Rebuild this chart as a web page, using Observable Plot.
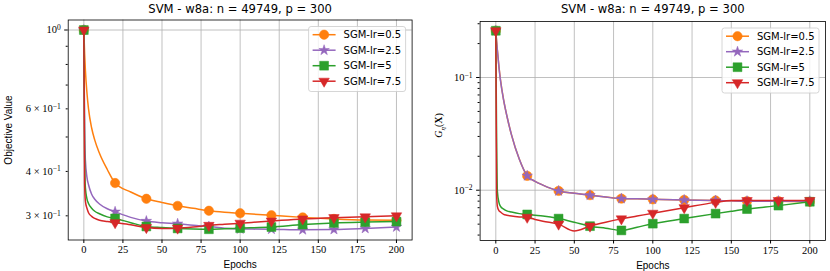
<!DOCTYPE html>
<html>
<head>
<meta charset="utf-8">
<script src="https://cdn.jsdelivr.net/npm/d3@7"></script>
<script src="https://cdn.jsdelivr.net/npm/@observablehq/plot@0.6"></script>
<style>
  html, body { margin: 0; padding: 0; background: white; }
  #wrap { display: flex; flex-direction: row; width: 830px; height: 271px; }
  #wrap svg { display: block; }
</style>
</head>
<body>
<div id="wrap"></div>
<script>
// ---------- data ----------
const title = "SVM - w8a: n = 49749, p = 300";
const seriesLabels = ["SGM-lr=0.5", "SGM-lr=2.5", "SGM-lr=5", "SGM-lr=7.5"];
const seriesColors = ["#ff7f0e", "#9467bd", "#2ca02c", "#d62728"];
const xTicks = [0, 25, 50, 75, 100, 125, 150, 175, 200];

// Left panel: objective value
const objEpochs = [0, 0.5, 1, 2, 3, 5, 7, 10, 15, 20, 30, 40, 50, 60, 70, 80, 90, 100, 120, 140, 160, 180, 200];
const objLr05 = [1.0, 0.86, 0.77, 0.665, 0.60, 0.53, 0.49, 0.45, 0.405, 0.371, 0.350, 0.335, 0.327, 0.320, 0.315, 0.310, 0.307, 0.305, 0.301, 0.297, 0.294, 0.292, 0.2915];
const objLr25 = [1.0, 0.53, 0.43, 0.385, 0.367, 0.345, 0.334, 0.324, 0.314, 0.308, 0.297, 0.290, 0.287, 0.285, 0.282, 0.280, 0.277, 0.2755, 0.275, 0.274, 0.2745, 0.2765, 0.279];
const objLr5  = [1.0, 0.45, 0.36, 0.335, 0.325, 0.315, 0.309, 0.304, 0.298, 0.295, 0.287, 0.280, 0.278, 0.2765, 0.2755, 0.275, 0.276, 0.277, 0.279, 0.2835, 0.2865, 0.288, 0.289];
const objLr75 = [1.0, 0.37, 0.33, 0.315, 0.306, 0.299, 0.295, 0.2915, 0.289, 0.287, 0.283, 0.278, 0.2765, 0.277, 0.279, 0.282, 0.284, 0.286, 0.290, 0.294, 0.2965, 0.298, 0.300];
const objYMajor = [1];
const objYMinor = [0.3, 0.4, 0.5, 0.6, 0.7, 0.8, 0.9];
const objYLabels = new Map([[1, "10^0"], [0.6, "6 × 10^−1"], [0.4, "4 × 10^−1"], [0.3, "3 × 10^−1"]]);

// Right panel: G_eta(X)
const gapEpochs = [0, 0.5, 1, 2, 3, 5, 7, 10, 15, 20, 25, 30, 40, 50, 60, 70, 80, 90, 100, 120, 140, 150, 160, 180, 200];
const gapLr05 = [0.26, 0.21, 0.175, 0.125, 0.095, 0.063, 0.046, 0.031, 0.0188, 0.0134, 0.0120, 0.0111, 0.00986, 0.0094, 0.00904, 0.0087, 0.00842, 0.0084, 0.0083, 0.0082, 0.0081, 0.00805, 0.0080, 0.0080, 0.0079];
const gapLr25 = [0.26, 0.21, 0.174, 0.124, 0.094, 0.063, 0.046, 0.031, 0.0188, 0.0134, 0.0120, 0.0111, 0.00985, 0.0094, 0.00903, 0.0087, 0.00842, 0.0084, 0.0083, 0.0082, 0.0081, 0.00805, 0.0080, 0.0080, 0.0080];
const gapLr5  = [0.26, 0.03, 0.0098, 0.0078, 0.0072, 0.0068, 0.00655, 0.0064, 0.0062, 0.0061, 0.0060, 0.0059, 0.0056, 0.0052, 0.0048, 0.0046, 0.0044, 0.0047, 0.00505, 0.0056, 0.0062, 0.0065, 0.0068, 0.0073, 0.0079];
const gapLr75 = [0.26, 0.0095, 0.0072, 0.0066, 0.0064, 0.0061, 0.0060, 0.0059, 0.0058, 0.00575, 0.0055, 0.0053, 0.0050, 0.00435, 0.0048, 0.0052, 0.00557, 0.0059, 0.00625, 0.0070, 0.0078, 0.0081, 0.0081, 0.0081, 0.0081];
const gapYMajor = [0.01, 0.1];
const gapYMinor = [0.004, 0.005, 0.006, 0.007, 0.008, 0.009, 0.02, 0.03, 0.04, 0.05, 0.06, 0.07, 0.08, 0.09, 0.2, 0.3];
const gapYLabels = new Map([[0.1, "10^−1"], [0.01, "10^−2"]]);

// ---------- styles ----------
const symbols = ["circle", "star", "square", "triangle"];
const d3symbols = [d3.symbolCircle, d3.symbolStar, d3.symbolSquare, d3.symbolTriangle];
const markerR = [4.7, 3.3, 5.0, 3.9];
const markerRot = [0, 0, 0, 180];
const gridStyle = {stroke: "#b0b0b0", strokeOpacity: 1, strokeWidth: 0.8};
const W = 415, H = 271;

function rowsFor(epochs, values) {
  return epochs.map((e, i) => ({epoch: e, value: values[i]}));
}

function legendMark(mr, mt) {
  return () => {
    const bw = 97, bh = 65;
    const x0 = W - mr - 6 - bw;
    const y0 = mt + 7;
    const g = d3.create("svg:g").attr("text-anchor", "start");
    g.append("rect").attr("x", x0).attr("y", y0).attr("width", bw).attr("height", bh)
      .attr("rx", 2.5).attr("fill", "white").attr("fill-opacity", 0.8)
      .attr("stroke", "#cccccc").attr("stroke-width", 0.8);
    seriesLabels.forEach((lab, i) => {
      const cy = y0 + 8.2 + i * 15.5;
      g.append("line").attr("x1", x0 + 4).attr("x2", x0 + 27).attr("y1", cy).attr("y2", cy)
        .attr("stroke", seriesColors[i]).attr("stroke-width", 1.5);
      g.append("path")
        .attr("d", d3.symbol(d3symbols[i], Math.PI * markerR[i] * markerR[i])())
        .attr("transform", `translate(${x0 + 15.5},${cy}) rotate(${markerRot[i]})`)
        .attr("fill", seriesColors[i]).attr("stroke", seriesColors[i]).attr("stroke-width", 0.5);
      g.append("text").attr("x", x0 + 35).attr("y", cy).attr("dy", "0.35em")
        .attr("text-anchor", "start")
        .attr("font-family", "DejaVu Sans").attr("font-size", 10).attr("fill", "black")
        .text(lab);
    });
    return g.node();
  };
}

function gLabelMark(ml, mt, mb, offset) {
  return () => {
    const x = ml - offset;
    const y = (mt + H - mb) / 2 - 5;
    const t = d3.create("svg:text")
      .attr("transform", `translate(${x},${y}) rotate(-90)`)
      .attr("text-anchor", "middle").attr("dy", "0.35em")
      .attr("font-family", "Liberation Serif").attr("font-size", 10).attr("fill", "black");
    t.append("tspan").attr("font-style", "italic").text("G");
    t.append("tspan").attr("font-style", "italic").attr("font-size", 7).attr("dy", "2.5").text("η");
    t.append("tspan").attr("dy", "-2.5").text("(");
    t.append("tspan").attr("font-weight", "bold").text("X");
    t.append("tspan").text(")");
    return t.node();
  };
}

function makeChart(cfg) {
  const seriesMarks = cfg.series.flatMap((vals, i) => {
    const rows = rowsFor(cfg.epochs, vals);
    return [
      Plot.line(rows, {x: "epoch", y: "value", stroke: seriesColors[i], strokeWidth: 1.5, curve: "monotone-x"}),
      Plot.dot(rows.filter(d => d.epoch % 20 === 0), {
        x: "epoch", y: "value", symbol: symbols[i], r: markerR[i],
        fill: seriesColors[i], stroke: seriesColors[i], strokeWidth: 0.5, rotate: markerRot[i]
      })
    ];
  });
  const fmt = d => cfg.yLabels.get(d) ?? "";
  const svg = Plot.plot({
    width: W, height: H,
    marginLeft: cfg.ml, marginRight: cfg.mr, marginTop: cfg.mt, marginBottom: cfg.mb,
    x: {domain: [-10, 210]},
    y: {type: "log", domain: cfg.yDomain},
    style: {fontFamily: "'Liberation Serif', serif", fontSize: "10.5px", color: "black", background: "white", overflow: "visible"},
    marks: [
      Plot.gridX(xTicks, gridStyle),
      Plot.gridY(cfg.yMajor, gridStyle),
      ...seriesMarks,
      Plot.frame({stroke: "black", strokeWidth: 0.8}),
      Plot.axisX(xTicks, {tickSize: 3.5, tickPadding: 2.5, label: null, tickFormat: d => String(d)}),
      Plot.axisY(cfg.yMajor, {tickSize: 3.5, tickPadding: 4, label: null, tickFormat: fmt}),
      Plot.axisY(cfg.yMinor, {tickSize: 2, tickPadding: 5.5, label: null, tickFormat: fmt}),
      Plot.text([title], {text: d => d, frameAnchor: "top", textAnchor: "middle", lineAnchor: "middle",
        dy: cfg.titleDy, fontFamily: "DejaVu Sans", fontSize: 11.6, fill: "black"}),
      Plot.text(["Epochs"], {text: d => d, frameAnchor: "bottom", textAnchor: "middle", lineAnchor: "middle",
        dy: 25, fontFamily: "Liberation Sans", fontSize: 10, fill: "black"}),
      ...(cfg.yLabel ? [Plot.text([cfg.yLabel], {text: d => d, frameAnchor: "left", textAnchor: "middle", lineAnchor: "middle",
        rotate: -90, dx: -59.5, fontFamily: "Liberation Sans", fontSize: 10, fill: "black"})] : []),
      ...(cfg.extra || []),
      legendMark(cfg.mr, cfg.mt)
    ]
  });
  // LaTeX-like superscripts on the log tick labels
  svg.querySelectorAll("text").forEach(node => {
    const s = node.textContent;
    if (s.includes("^") && node.childElementCount === 0) {
      const [base, sup] = s.split("^");
      node.textContent = base;
      const ts = document.createElementNS("http://www.w3.org/2000/svg", "tspan");
      ts.setAttribute("dy", "-0.45em");
      ts.setAttribute("font-size", "7.5px");
      ts.textContent = sup;
      node.appendChild(ts);
    }
  });
  return svg;
}

const wrap = document.getElementById("wrap");
wrap.appendChild(makeChart({
  epochs: objEpochs, series: [objLr05, objLr25, objLr5, objLr75],
  yDomain: [0.2565, 1.067], yMajor: objYMajor, yMinor: objYMinor, yLabels: objYLabels,
  ml: 67.7, mr: 3.4, mt: 19.5, mb: 31.5, titleDy: -11, yLabel: "Objective Value"
}));
wrap.appendChild(makeChart({
  epochs: gapEpochs, series: [gapLr05, gapLr25, gapLr5, gapLr75],
  yDomain: [0.00358, 0.314], yMajor: gapYMajor, yMinor: gapYMinor, yLabels: gapYLabels,
  ml: 64.6, mr: 5, mt: 21, mb: 31, titleDy: -12.5, yLabel: null,
  extra: [gLabelMark(64.6, 21, 31, 41)]
}));
</script>
</body>
</html>
